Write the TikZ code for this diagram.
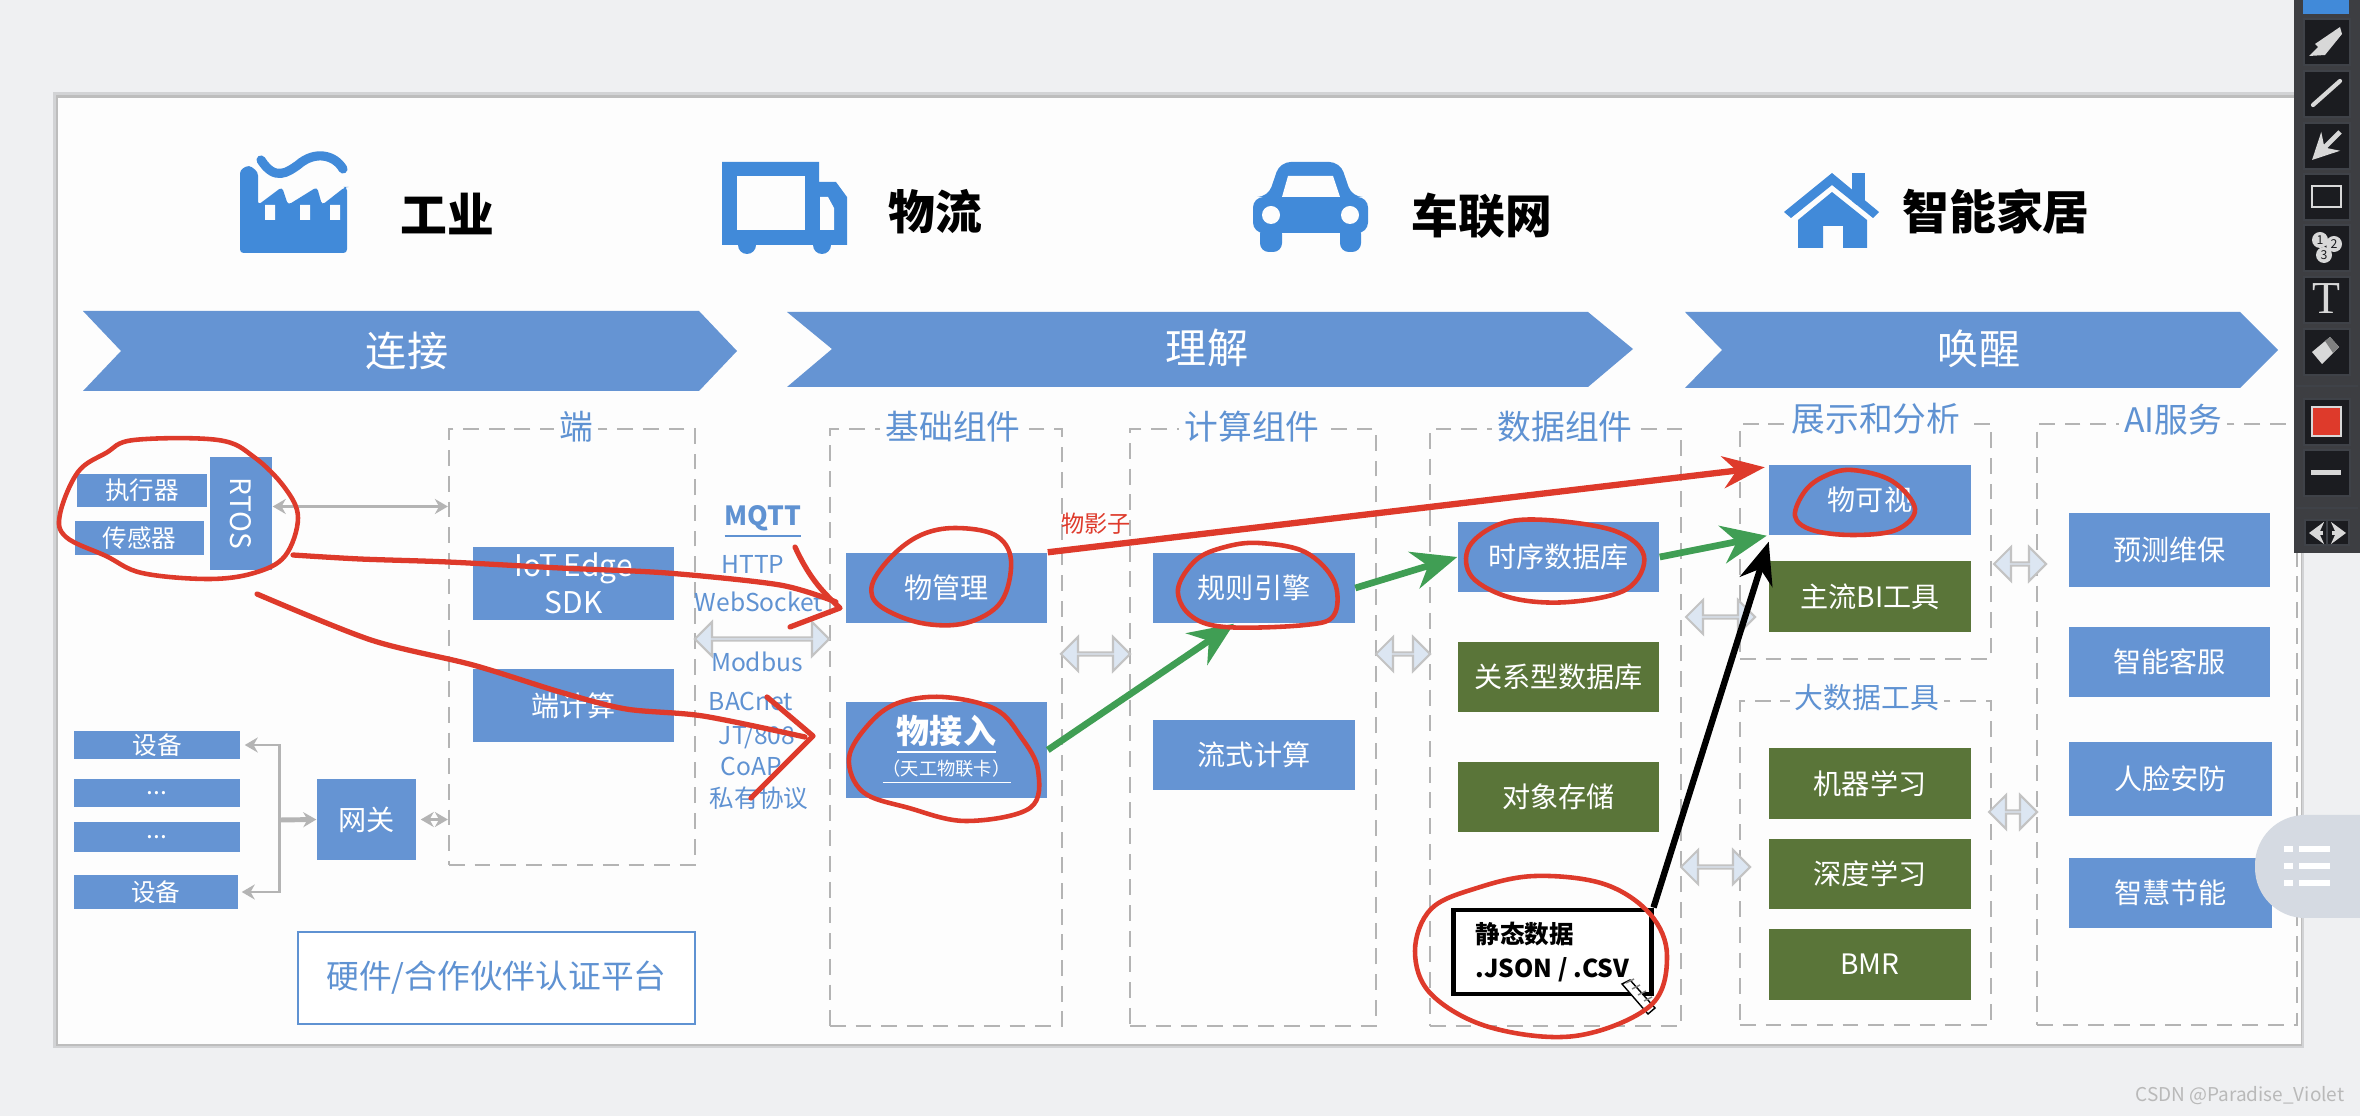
\documentclass[tikz,border=0pt]{standalone}
\usepackage{fontspec}
\setmainfont{Noto Sans CJK SC}
\newfontfamily\serifpen{Liberation Serif}
\usetikzlibrary{arrows.meta,shapes.arrows}
\definecolor{pagegray}{HTML}{EFF0F2}
\definecolor{edgegray}{HTML}{D2D3D5}
\definecolor{edgedeep}{HTML}{BDBDBD}
\definecolor{slidewhite}{HTML}{FDFDFD}
\definecolor{blockblue}{HTML}{6594D3}
\definecolor{blockgreen}{HTML}{5A7539}
\definecolor{iconblue}{HTML}{418AD9}
\definecolor{textblue}{HTML}{5F92D2}
\definecolor{linegray}{HTML}{B4B4B4}
\definecolor{arrowfill}{HTML}{DCE6F2}
\definecolor{penred}{HTML}{DE3A2B}
\definecolor{pengreen}{HTML}{409E54}
\definecolor{bardark}{HTML}{1B1C20}
\definecolor{barline}{HTML}{3F4248}
\definecolor{barlight}{HTML}{D8D8D8}
\definecolor{floatgray}{HTML}{D5DAE2}
\tikzset{
  bluebox/.style={fill=blockblue,text=white,inner sep=0pt,align=center,font=\fontsize{8}{10}\selectfont},
  greenbox/.style={bluebox,fill=blockgreen},
  slotbox/.style={minimum width=2.01cm,minimum height=0.7cm},
  dashbox/.style={draw=linegray,line width=0.6pt,dash pattern=on 4.5pt off 2.8pt,inner sep=0pt},
  grouptitle/.style={fill=slidewhite,text=textblue,inner sep=1.5pt,font=\fontsize{9.6}{11}\selectfont},
  fieldtitle/.style={text=black,font=\fontsize{13.3}{15}\selectfont\bfseries,inner sep=0pt},
  bannertitle/.style={text=white,font=\fontsize{11.7}{13}\selectfont,inner sep=0pt},
  protocol/.style={text=textblue,inner sep=0pt,font=\fontsize{7}{9}\selectfont},
  grayline/.style={draw=linegray,line width=0.85pt,>={Stealth[length=1.3mm,width=1.5mm]}},
  fatarrow/.style={double arrow,draw=linegray!80,fill=arrowfill,line width=0.6pt,inner sep=0pt,minimum width=0.34cm,double arrow head extend=0.1cm},
  penloop/.style={draw=penred,line width=1.3pt,line cap=round,line join=round},
  redarrow/.style={draw=penred,line width=1.8pt,-{Stealth[length=4.2mm,width=3.2mm]}},
  greenarrow/.style={draw=pengreen,line width=1.9pt,-{Stealth[length=4.5mm,width=3.8mm]}},
  blackarrow/.style={draw=black,line width=1.8pt,-{Stealth[length=4.2mm,width=3.4mm]}},
  barbutton/.style={draw=barline,line width=0.5pt,fill=bardark,minimum width=0.46cm,minimum height=0.46cm,inner sep=0pt}
}
\begin{document}
\begin{tikzpicture}[x=0.01cm,y=-0.01cm]
\useasboundingbox (0,0) rectangle (2360,1116);
\fill[pagegray] (0,0) rectangle (2360,1116);
\fill[edgegray] (53,92) rectangle (2304,1048);
\fill[edgedeep] (56,95) rectangle (2302,1046);
\fill[slidewhite] (58,98) rectangle (2301,1044);

\fill[iconblue,rounded corners=1pt] (240,253) -- (240,170) -- (249,165) -- (258,172) -- (258,205) -- (282,187) -- (288,205) -- (317,187) -- (322,205) -- (345,187) -- (347,187) -- (347,253) -- cycle;
\fill[slidewhite] (265,205) rectangle (275,220) (300,205) rectangle (310,220) (330,205) rectangle (340,220);
\draw[iconblue,line width=2.6pt,line cap=round] (261,160) .. controls (275,182) and (288,172) .. (298,165) .. controls (315,150) and (335,155) .. (343,169);
\node[fieldtitle] (industry) at (447,214) {工业};

\fill[iconblue] (722,162) -- (819,162) -- (819,182) -- (836,182) -- (847,197) -- (847,245) -- (722,245) -- cycle;
\fill[iconblue] (747,245) circle (9) (822,245) circle (9);
\fill[slidewhite] (737,176) rectangle (805,230);
\fill[slidewhite] (820,197) -- (828,197) -- (834,208) -- (834,230) -- (820,230) -- cycle;
\node[fieldtitle] (logistics) at (935,212) {物流};

\fill[iconblue,rounded corners=3pt] (1253,233) -- (1253,197) -- (1268,197) -- (1280,162) -- (1340,162) -- (1352,197) -- (1368,197) -- (1368,233) -- cycle;
\fill[iconblue,rounded corners=2.5pt] (1260,225) rectangle (1282,252) (1340,225) rectangle (1361,252);
\fill[slidewhite] (1288,176) -- (1333,176) -- (1340,197) -- (1282,197) -- cycle;
\fill[slidewhite] (1271,215) circle (9) (1350,215) circle (9);
\node[fieldtitle] (vehicle) at (1482,216) {车联网};

\fill[iconblue] (1852,173) rectangle (1865,205);
\fill[slidewhite] (1832,184) -- (1795,215) -- (1868,215) -- cycle;
\fill[iconblue] (1832,173) -- (1879,212) -- (1873,218) -- (1832,185) -- (1791,218) -- (1784,212) -- cycle;
\fill[iconblue] (1832,192) -- (1867,220) -- (1867,248) -- (1843,248) -- (1843,226) -- (1823,226) -- (1823,248) -- (1798,248) -- (1798,220) -- cycle;
\node[fieldtitle] (home) at (1996,212) {智能家居};

\fill[blockblue] (83,311) -- (699,311) -- (737,351) -- (699,391) -- (83,391) -- (121,351) -- cycle;
\fill[blockblue] (787,312) -- (1588,312) -- (1633,349) -- (1588,387) -- (787,387) -- (832,349) -- cycle;
\fill[blockblue] (1685,312) -- (2240,312) -- (2278,350) -- (2240,388) -- (1685,388) -- (1722,350) -- cycle;
\node[bannertitle] (connect) at (407,351) {连接};
\node[bannertitle] (understand) at (1207,348) {理解};
\node[bannertitle] (awaken) at (1979,349) {唤醒};

\node[dashbox,minimum width=2.46cm,minimum height=4.36cm] (edgebox) at (572,647) {};
\node[dashbox,minimum width=2.32cm,minimum height=5.97cm] (basebox) at (946,727.5) {};
\node[dashbox,minimum width=2.46cm,minimum height=5.97cm] (calcbox) at (1253,727.5) {};
\node[dashbox,minimum width=2.51cm,minimum height=5.97cm] (databox) at (1555.5,727.5) {};
\node[dashbox,minimum width=2.51cm,minimum height=2.35cm] (showbox) at (1865.5,541.5) {};
\node[dashbox,minimum width=2.51cm,minimum height=3.24cm] (toolbox) at (1865.5,863) {};
\node[dashbox,minimum width=2.6cm,minimum height=6.01cm] (aibox) at (2167,724.5) {};
\node[grouptitle] at (576,427) {端};
\node[grouptitle] at (953,427) {基础组件};
\node[grouptitle] at (1252,427) {计算组件};
\node[grouptitle] at (1565,427) {数据组件};
\node[grouptitle] at (1876,419) {展示和分析};
\node[grouptitle,font=\fontsize{8.2}{10}\selectfont] at (1867,698) {大数据工具};
\node[grouptitle] at (2173,420) {AI服务};

\node[bluebox,font=\fontsize{7}{9}\selectfont,minimum width=1.3cm,minimum height=0.33cm] (actuator) at (142,490.5) {执行器};
\node[bluebox,font=\fontsize{7}{9}\selectfont,minimum width=1.29cm,minimum height=0.34cm] (sensor) at (139.5,538) {传感器};
\node[bluebox,minimum width=0.62cm,minimum height=1.13cm] (rtos) at (241,513.5) {\rotatebox{-90}{RTOS}};
\node[bluebox,font=\fontsize{8.5}{10.5}\selectfont,minimum width=2.01cm,minimum height=0.73cm] (iotsdk) at (573.5,583.5) {IoT Edge\\SDK};
\node[bluebox,minimum width=2.01cm,minimum height=0.73cm] (edgecalc) at (573.5,705.5) {端计算};
\node[bluebox,font=\fontsize{7}{9}\selectfont,minimum width=1.66cm,minimum height=0.28cm] (deviceup) at (157,745) {设备};
\node[bluebox,font=\fontsize{7}{9}\selectfont,minimum width=1.66cm,minimum height=0.28cm] (dotsup) at (157,793) {...};
\node[bluebox,font=\fontsize{7}{9}\selectfont,minimum width=1.66cm,minimum height=0.3cm] (dotsdown) at (157,837) {...};
\node[bluebox,font=\fontsize{7}{9}\selectfont,minimum width=1.64cm,minimum height=0.34cm] (devicedown) at (156,892) {设备};
\node[bluebox,minimum width=0.99cm,minimum height=0.81cm] (gateway) at (366.5,819.5) {网关};
\node[draw=textblue,line width=0.6pt,fill=white,text=textblue,font=\fontsize{9.3}{11}\selectfont,minimum width=3.97cm,minimum height=0.92cm,inner sep=0pt] (certbox) at (496.5,978) {硬件/合作伙伴认证平台};

\draw[grayline,<->] ([yshift=0.07cm]rtos.east) -- ([yshift=0.07cm]rtos.east -| edgebox.west);
\draw[grayline,<->] ([xshift=0.04cm]deviceup.east) -- ++(35,0) |- ([xshift=0.03cm]devicedown.east);
\coordinate (devicebus) at (279,820);
\draw[grayline,line width=1.4pt,->] (devicebus) -- (gateway.west);
\draw[grayline,<->] ([xshift=0.04cm]gateway.east) -- (gateway.east -| edgebox.west);

\node[protocol,font=\fontsize{7.5}{9}\selectfont\bfseries] (mqtt) at (763,522) {\underline{MQTT}};
\node[protocol] (http) at (753,564) {HTTP};
\node[protocol] (websocket) at (759,602) {WebSocket};
\node[protocol] (modbus) at (757,662) {Modbus};
\node[protocol] (bacnet) at (751,701) {BACnet};
\node[protocol] (jt808) at (757,737) {JT/808};
\node[protocol] (coap) at (751,766) {CoAP};
\node[protocol] (private) at (759,798) {私有协议};

\node[bluebox,slotbox] (thingmgmt) at (946.5,588) {物管理};
\node[bluebox,minimum width=2.01cm,minimum height=0.96cm] (thingaccess) at (946.5,750) {\fontsize{9.4}{11}\selectfont\bfseries\underline{物接入}\\[-1pt]\fontsize{5.2}{7}\selectfont\underline{（天工物联卡）}};
\node[bluebox,slotbox] (rules) at (1254,588) {规则引擎};
\node[bluebox,slotbox] (stream) at (1254,755) {流式计算};
\node[bluebox,slotbox] (tsdb) at (1558.5,557) {时序数据库};
\node[greenbox,slotbox] (reldb) at (1558.5,677) {关系型数据库};
\node[greenbox,slotbox] (objstore) at (1558.5,797) {对象存储};
\node[draw=black,line width=1.4pt,fill=white,minimum width=1.97cm,minimum height=0.84cm,inner sep=0pt,align=left,font=\fontsize{7}{9.5}\selectfont\bfseries] (staticdata) at (1552.5,952) {静态数据\\.JSON / .CSV};

\node[bluebox,slotbox] (thingviz) at (1870,500) {物可视};
\node[greenbox,slotbox] (bitool) at (1870,596.5) {主流BI工具};
\node[greenbox,slotbox] (mlearn) at (1870,783.5) {机器学习};
\node[greenbox,slotbox] (dlearn) at (1870,874) {深度学习};
\node[greenbox,slotbox] (bmr) at (1870,964.5) {BMR};
\node[bluebox,slotbox,minimum height=0.74cm] (maintain) at (2169.5,550) {预测维保};
\node[bluebox,slotbox] (service) at (2169.5,662) {智能客服};
\node[bluebox,slotbox,minimum height=0.74cm,minimum width=2.03cm] (security) at (2170.5,779) {人脸安防};
\node[bluebox,slotbox,minimum width=2.03cm] (energy) at (2170.5,893) {智慧节能};

\node[fatarrow,minimum height=1.34cm] (arrowedge) at (762,639) {};
\node[fatarrow,minimum height=0.69cm] (arrowbase) at (1095.5,654) {};
\node[fatarrow,minimum height=0.54cm] (arrowcalc) at (1403,654) {};
\node[fatarrow,minimum height=0.69cm] (arrowshow) at (1720.5,617) {};
\node[fatarrow,minimum height=0.69cm] (arrowtool) at (1715.5,867) {};
\node[fatarrow,minimum height=0.52cm] (arrowaiup) at (2020,564) {};
\node[fatarrow,minimum height=0.48cm] (arrowaidown) at (2013,812) {};

\fill[white,draw=black,line width=0.4pt] (1622,984) -- (1630,980) -- (1655,1008) -- (1648,1014) -- cycle;
\foreach \offs in {0,6,12,18}
  \draw[gray,line width=0.4pt] (1626+\offs,983+\offs) -- (1634+\offs,977+\offs+2);

\draw[redarrow] (thingmgmt.north east) -- ([xshift=-0.04cm,yshift=-0.03cm]thingviz.north west);
\node[text=penred,inner sep=0pt,font=\fontsize{6.6}{8}\selectfont] (shadowlabel) at (1096,524) {物影子};
\draw[greenarrow] (thingaccess.east) -- ([xshift=-0.2cm]rules.south);
\draw[greenarrow] (rules.east) -- (tsdb.west);
\draw[greenarrow] (tsdb.east) -- ([xshift=-0.02cm]thingviz.south west);
\draw[blackarrow] (staticdata.north east) -- ([yshift=-0.06cm]thingviz.south west);

\draw[penloop] plot[smooth cycle,tension=0.6] coordinates {(134,440) (218,440) (254,457) (285,488) (298,518) (285,556) (254,573) (208,579) (142,573) (106,556) (66,537) (60,514) (78,472) (106,453)};
\draw[penloop] plot[smooth cycle,tension=0.6] coordinates {(955,528) (995,535) (1011,560) (1001,602) (966,623) (921,623) (880,606) (872,585) (892,556) (921,535)};
\draw[penloop] plot[smooth cycle,tension=0.6] coordinates {(943,697) (995,709) (1021,737) (1038,770) (1030,808) (966,821) (909,808) (863,792) (849,758) (869,724) (898,703)};
\draw[penloop] plot[smooth cycle,tension=0.6] coordinates {(1259,543) (1305,552) (1334,581) (1334,615) (1305,625) (1225,627) (1190,615) (1178,589) (1196,560) (1225,547)};
\draw[penloop] plot[smooth cycle,tension=0.6] coordinates {(1546,520) (1615,531) (1644,556) (1627,589) (1569,602) (1512,598) (1472,577) (1469,547) (1500,524)};
\draw[penloop] plot[smooth cycle,tension=0.6] coordinates {(1535,876) (1604,884) (1650,914) (1667,956) (1650,1006) (1575,1036) (1489,1027) (1431,994) (1415,951) (1431,909) (1477,888)};
\draw[penloop] plot[smooth cycle,tension=0.6] coordinates {(1852,470) (1892,481) (1915,509) (1896,530) (1852,535) (1812,530) (1795,516) (1805,491) (1825,476)};
\draw[penloop,line width=1.5pt] plot[smooth,tension=0.5] coordinates {(293,555) (360,559) (448,562) (560,568) (667,573) (780,585) (836,602)};
\draw[penloop,line width=1.5pt] (795,547) .. controls (808,575) and (820,590) .. (840,608) -- (790,627);
\draw[penloop,line width=1.5pt] plot[smooth,tension=0.5] coordinates {(257,594) (371,640) (473,665) (560,692) (626,709) (703,716) (805,737)};
\draw[penloop,line width=1.5pt] (767,697) -- (813,736) -- (751,798);

\fill[floatgray,rounded corners=0.5cm] (2360,815) -- (2255,815) -- (2255,918) -- (2360,918);
\foreach \lineat in {849,866,883} {
  \fill[white] (2284,\lineat-3) rectangle (2293,\lineat+3);
  \fill[white] (2299,\lineat-3) rectangle (2330,\lineat+3);
}

\fill[bardark!85!white] (2294,0) rectangle (2360,553);
\fill[iconblue] (2303,0) rectangle (2349,14);
\foreach \btn in {18,70,122,173,224,276,328,398,449}
  \node[barbutton,anchor=north west] at (2303,\btn) {};
\draw[barline,line width=0.5pt] (2296,386) -- (2358,386) (2296,508) -- (2358,508);
\fill[barlight] (2309,56) -- (2318,47) -- (2315,44) -- (2340,27) -- (2342,34) -- (2325,55) -- cycle;
\draw[barlight,line width=1.2pt,line cap=round] (2313,105) -- (2340,81);
\draw[barlight,line width=1.4pt,-{Stealth[length=2.6mm,width=2.6mm]}] (2340,132) -- (2312,160);
\draw[barlight,line width=0.8pt] (2312,186) rectangle (2341,207);
\foreach \dotx/\doty/\digit in {2320/240/1,2334/244/2,2324/255/3}
  \node[circle,fill=barlight,text=bardark,inner sep=0pt,minimum size=0.16cm,font=\fontsize{3.5}{4}\selectfont] at (\dotx,\doty) {\digit};
\node[text=barlight,inner sep=0pt,font=\serifpen\fontsize{13}{15}\selectfont] at (2326,299) {T};
\fill[barlight] (2312,352) -- (2330,337) -- (2339,347) -- (2322,364) -- cycle;
\fill[gray] (2325,341) -- (2330,337) -- (2339,347) -- (2333,353) -- cycle;
\fill[penred] (2312,407) rectangle (2341,436);
\draw[barlight,line width=0.6pt] (2312,407) rectangle (2341,436);
\fill[barlight] (2311,470) rectangle (2341,475);
\draw[barline,line width=0.5pt,fill=bardark] (2305,520) rectangle (2349,545);
\draw[barline,line width=0.5pt] (2327,520) -- (2327,545);
\draw[barlight,line width=1.4pt,-{Stealth[length=1.5mm,width=2.2mm]}] (2323,533) -- (2309,533);
\draw[barlight,line width=1.4pt,-{Stealth[length=1.5mm,width=2.2mm]}] (2332,533) -- (2346,533);

\node[text=gray!55,inner sep=0pt,font=\fontsize{5.4}{7}\selectfont] (watermark) at (2240,1096) {CSDN @Paradise\_Violet};
\end{tikzpicture}
\end{document}
